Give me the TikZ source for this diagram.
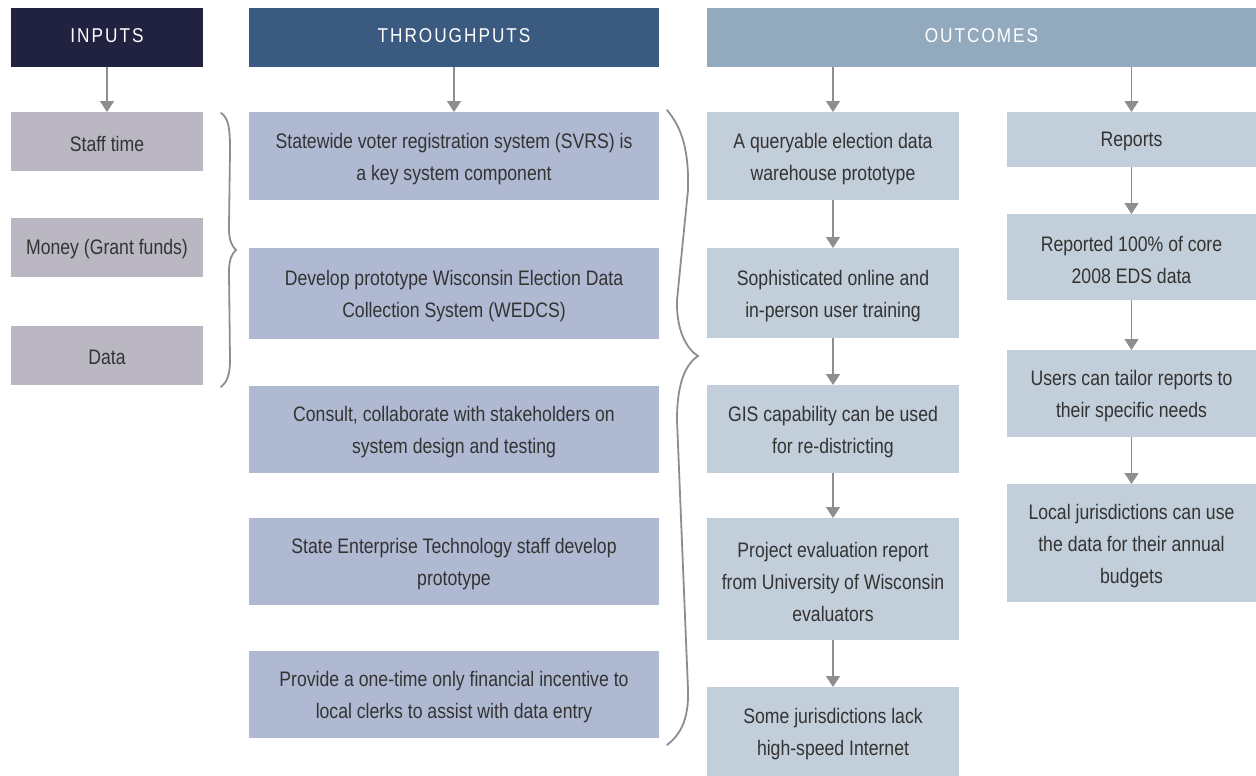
\documentclass[tikz,border=0pt]{standalone}
\usepackage{fontspec}
\setmainfont{Liberation Sans}[FakeStretch=0.84]
\newfontfamily\headfont{Liberation Sans}[FakeStretch=0.86,LetterSpace=10]
\usetikzlibrary{arrows.meta}

\definecolor{hin}{HTML}{212240}
\definecolor{hthr}{HTML}{3B5A80}
\definecolor{hout}{HTML}{93A9BE}
\definecolor{fin}{HTML}{BAB7C3}
\definecolor{fthr}{HTML}{B0B9D2}
\definecolor{fout}{HTML}{C2CED9}
\definecolor{txt}{HTML}{333333}
\definecolor{lnk}{HTML}{8E8E92}

% a filled box placed by its top-left and bottom-right corners (in px),
% with its text set as a second node on the box centre
\newcommand{\flowbox}[8]{%
  \node[#2, anchor=north west, minimum width={(#5)-(#3)}, minimum height={(#6)-(#4)}]
    (#1) at (#3,#4) {};
  \node[#2, fill=none, yshift=#7] (#1-text) at (#1.center) {#8};}

\tikzset{
  base/.style={inner sep=0pt, outer sep=0pt, align=center, text=txt,
    font=\fontsize{21}{32}\selectfont},
  head/.style={base, text=white, font=\headfont\fontsize{20}{24}\selectfont},
  inbox/.style={base, fill=fin},
  thrbox/.style={base, fill=fthr},
  outbox/.style={base, fill=fout},
  arr/.style={draw=lnk, line width=1.6pt, -{Triangle[width=14pt,length=11pt]}},
  brace/.style={draw=lnk, line width=1.8pt, line cap=round}
}

\begin{document}
\begin{tikzpicture}[x=1pt, y=-1pt]
\useasboundingbox (0,0) rectangle (1256,776);

% column headers
\flowbox{hI}{head, fill=hin}{11}{8}{203}{67}{2pt}{INPUTS}
\flowbox{hT}{head, fill=hthr}{249}{8}{659}{67}{2pt}{THROUGHPUTS}
\flowbox{hO}{head, fill=hout}{707}{8}{1256}{67}{2pt}{OUTCOMES}

% inputs
\flowbox{i1}{inbox}{11}{112}{203}{171}{-2pt}{Staff time}
\flowbox{i2}{inbox}{11}{218}{203}{277}{-2pt}{Money (Grant funds)}
\flowbox{i3}{inbox}{11}{326}{203}{385}{-2pt}{Data}

% throughputs
\flowbox{t1}{thrbox}{249}{112}{659}{200}{-3pt}{Statewide voter registration system (SVRS) is\\a key system component}
\flowbox{t2}{thrbox}{249}{248}{659}{339}{-3pt}{Develop prototype Wisconsin Election Data\\Collection System (WEDCS)}
\flowbox{t3}{thrbox}{249}{386}{659}{473}{-3pt}{Consult, collaborate with stakeholders on\\system design and testing}
\flowbox{t4}{thrbox}{249}{518}{659}{605}{-3pt}{State Enterprise Technology staff develop\\prototype}
\flowbox{t5}{thrbox}{249}{651}{659}{738}{-3pt}{Provide a one-time only financial incentive to\\local clerks to assist with data entry}

% outcomes, first column
\flowbox{a1}{outbox}{707}{112}{959}{200}{-3pt}{A queryable election data\\warehouse prototype}
\flowbox{a2}{outbox}{707}{248}{959}{338}{-3pt}{Sophisticated online and\\in-person user training}
\flowbox{a3}{outbox}{707}{385}{959}{473}{-3pt}{GIS capability can be used\\for re-districting}
\flowbox{a4}{outbox}{707}{518}{959}{640}{-3pt}{Project evaluation report\\from University of Wisconsin\\evaluators}
\flowbox{a5}{outbox}{707}{687}{959}{776}{-3pt}{Some jurisdictions lack\\high-speed Internet}

% outcomes, second column
\flowbox{b1}{outbox}{1007}{112}{1256}{167}{-2pt}{Reports}
\flowbox{b2}{outbox}{1007}{214}{1256}{300}{-3pt}{Reported 100\% of core\\2008 EDS data}
\flowbox{b3}{outbox}{1007}{350}{1256}{437}{-3pt}{Users can tailor reports to\\their specific needs}
\flowbox{b4}{outbox}{1007}{484}{1256}{602}{-3pt}{Local jurisdictions can use\\the data for their annual\\budgets}

% header arrows
\draw[arr] (hI.south) -- (i1.north);
\draw[arr] (hT.south) -- (t1.north);
\draw[arr] (a1.north |- hO.south) -- (a1.north);
\draw[arr] (b1.north |- hO.south) -- (b1.north);

% chains
\draw[arr] (a1) -- (a2);
\draw[arr] (a2) -- (a3);
\draw[arr] (a3) -- (a4);
\draw[arr] (a4) -- (a5);
\draw[arr] (b1) -- (b2);
\draw[arr] (b2) -- (b3);
\draw[arr] (b3) -- (b4);

% brace grouping the inputs
\coordinate (lbT) at (221,113);
\coordinate (lbM) at (236,250);
\coordinate (lbB) at (221,387);
\draw[brace] (lbT) .. controls (229,118) and (230,130) .. (230,150)
  -- (229,228) .. controls (229,241) and (232,246) .. (lbM)
  .. controls (232,254) and (229,259) .. (229,272)
  -- (230,360) .. controls (230,375) and (227,382) .. (lbB);

% brace grouping the throughputs
\coordinate (rbT) at (667,110);
\coordinate (rbM) at (698,356);
\coordinate (rbB) at (667,745);
\draw[brace] (rbT) .. controls (682,128) and (689,150) .. (688,190)
  -- (677,300) .. controls (676,332) and (688,350) .. (rbM)
  .. controls (686,364) and (677,382) .. (677,420)
  -- (688,690) .. controls (689,720) and (680,735) .. (rbB);
\end{tikzpicture}
\end{document}
